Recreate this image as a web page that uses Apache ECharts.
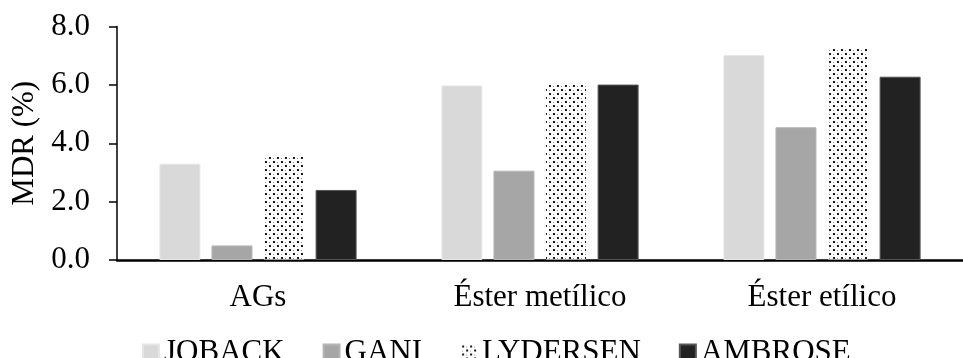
<!DOCTYPE html>
<html>
<head>
<meta charset="utf-8">
<script src="https://cdn.jsdelivr.net/npm/echarts@6/dist/echarts.min.js"></script>
<style>
  html, body { margin: 0; padding: 0; background: #fff; }
  #chart { width: 963px; height: 358px; }
</style>
</head>
<body>
<div id="chart"></div>
<script>
// Categories and mean deviation values (MDR, %) per estimation method
const categories = ['AGs', 'Éster metílico', 'Éster etílico'];
const joback    = [3.3, 5.98, 7.02];
const gani      = [0.5, 3.06, 4.55];
const lydersen  = [3.55, 6.07, 7.27];
const ambrose   = [2.4, 6.01, 6.28];
const yTicks    = [0, 2, 4, 6, 8];

// Dotted fill used for the LYDERSEN bars
function dotPattern() {
  const c = document.createElement('canvas');
  c.width = 8; c.height = 8;
  const g = c.getContext('2d');
  g.fillStyle = '#ffffff';
  g.fillRect(0, 0, 8, 8);
  g.fillStyle = '#1a1a1a';
  g.fillRect(1, 1, 2, 2);
  g.fillRect(5, 5, 2, 2);
  g.fillStyle = '#9a9a9a';
  g.fillRect(5, 2, 1, 1);
  g.fillRect(1, 6, 1, 1);
  return { image: c, repeat: 'repeat' };
}

const FONT = '"Liberation Serif", "Times New Roman", serif';
const FS = 31;
const LEGEND_FS = 31;

const chart = echarts.init(document.getElementById('chart'), null, { renderer: 'canvas' });

function barSeries(name, data, color, border) {
  return {
    name: name,
    type: 'bar',
    data: data,
    barWidth: 41,
    barGap: '27%',
    itemStyle: { color: color, borderColor: border, borderWidth: 1 },
    emphasis: { disabled: true }
  };
}

chart.setOption({
  animation: false,
  backgroundColor: '#ffffff',
  textStyle: { fontFamily: FONT, color: '#000' },
  grid: { left: 117, right: -11, top: 26.5, bottom: 98, containLabel: false },
  legend: {
    left: 137,
    top: 332,
    itemWidth: 16,
    itemHeight: 16,
    itemGap: 38,
    icon: 'rect',
    textStyle: { fontFamily: FONT, fontSize: LEGEND_FS, color: '#000' },
    data: ['JOBACK', 'GANI', 'LYDERSEN', 'AMBROSE']
  },
  xAxis: {
    type: 'category',
    data: categories,
    axisLine: { lineStyle: { color: '#000', width: 2.5 } },
    axisTick: { show: false },
    axisLabel: { fontFamily: FONT, fontSize: FS, color: '#000', margin: 22 }
  },
  yAxis: {
    type: 'value',
    min: yTicks[0],
    max: yTicks[yTicks.length - 1],
    interval: yTicks[1] - yTicks[0],
    name: 'MDR (%)',
    nameLocation: 'middle',
    nameRotate: 90,
    nameGap: 77,
    nameTextStyle: { fontFamily: FONT, fontSize: FS, color: '#000' },
    axisLine: { show: true, lineStyle: { color: '#000', width: 1.5 } },
    axisTick: { show: true, inside: false, length: 8, lineStyle: { color: '#000', width: 1.5 } },
    splitLine: { show: false },
    axisLabel: {
      fontFamily: FONT, fontSize: FS, color: '#000', margin: 27,
      formatter: v => v.toFixed(1)
    }
  },
  series: [
    barSeries('JOBACK', joback, '#d9d9d9', '#e6e6e6'),
    barSeries('GANI', gani, '#a6a6a6', '#b5b5b5'),
    barSeries('LYDERSEN', lydersen, dotPattern(), 'rgba(0,0,0,0)'),
    barSeries('AMBROSE', ambrose, '#222222', '#555555')
  ]
});
</script>
</body>
</html>
